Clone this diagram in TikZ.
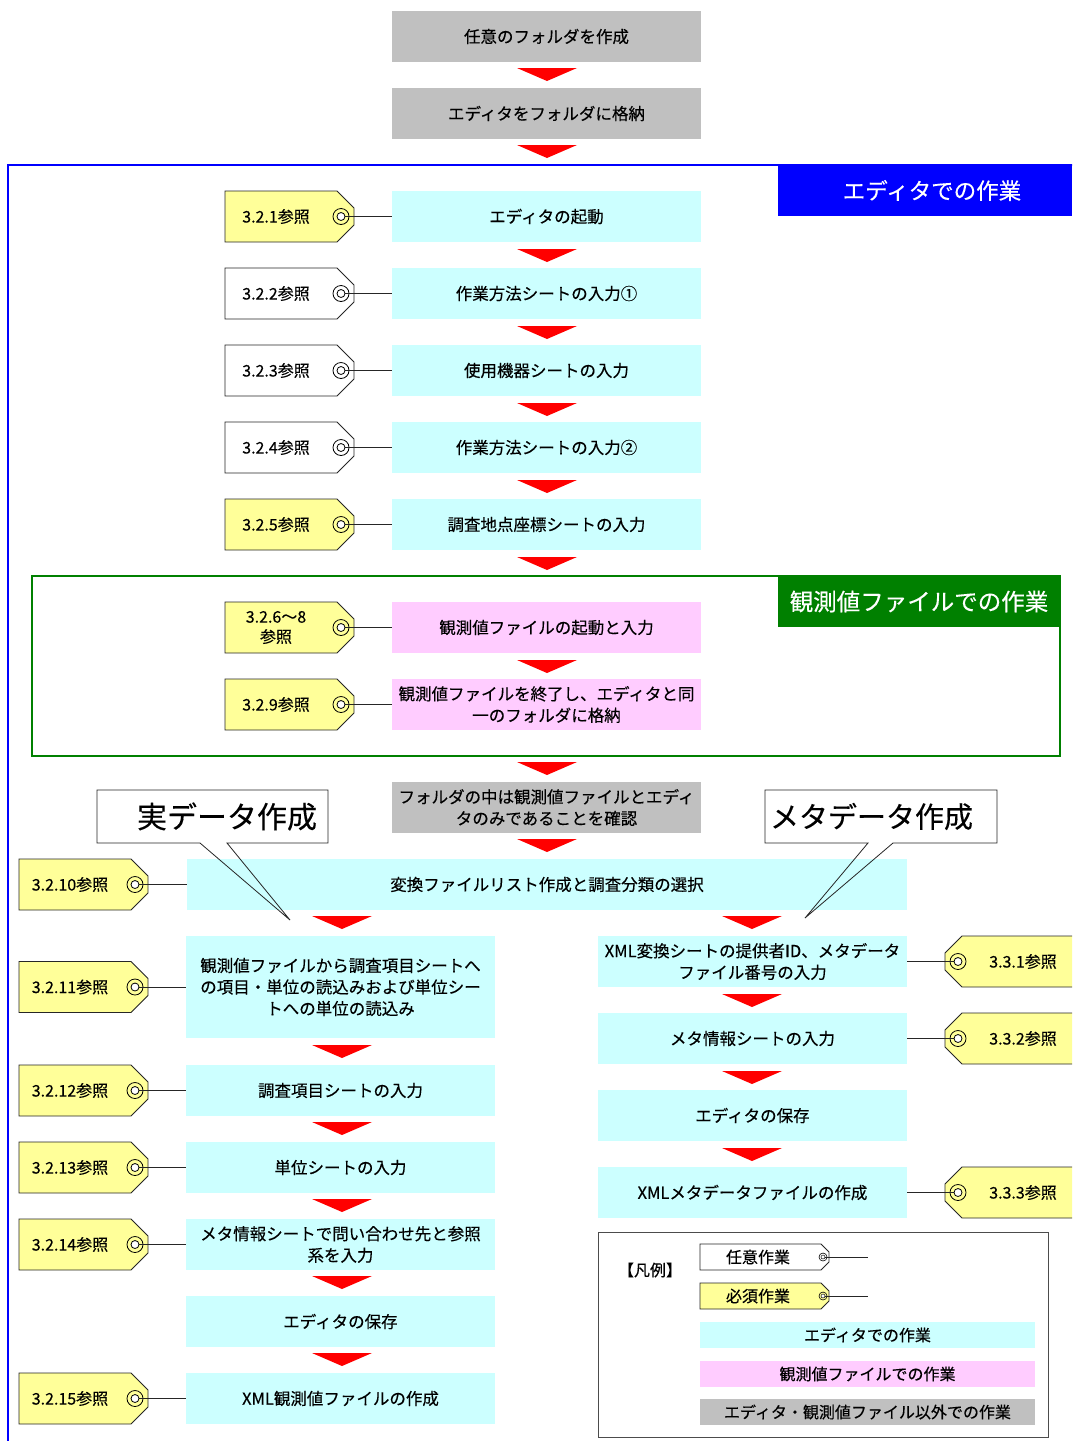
\documentclass[tikz,border=0pt]{standalone}
\usepackage{fontspec}
\setmainfont{Noto Sans CJK JP}[FakeBold=0.3]
\definecolor{cyanbox}{HTML}{CCFFFF}
\definecolor{pinkbox}{HTML}{FFCCFF}
\definecolor{graybox}{HTML}{C0C0C0}
\definecolor{tagyellow}{HTML}{FFFF99}
\definecolor{dkgreen}{HTML}{008000}
\tikzset{
  box/.style={minimum width=309, minimum height=51, inner sep=0pt, align=center, font=\fontsize{16.5}{21.5}\selectfont},
  ebox/.style={box, fill=cyanbox},
  pbox/.style={box, fill=pinkbox},
  gbox/.style={box, fill=graybox},
  tagline/.style={draw=black!85, line width=0.8},
  tagtext/.style={inner sep=0pt, align=center, font=\fontsize{16}{20}\selectfont},
  ring/.style={circle, draw=black, line width=0.8, minimum size=16, inner sep=0pt},
  hole/.style={circle, draw=black, line width=0.8, fill=white, minimum size=8, inner sep=0pt},
  sring/.style={circle, draw=black, line width=0.6, minimum size=8, inner sep=0pt},
  shole/.style={circle, draw=black, line width=0.5, fill=white, minimum size=4, inner sep=0pt},
  conn/.style={draw=black!85, line width=0.8},
  callout/.style={draw=black!85, line width=0.8},
  legtext/.style={inner sep=0pt, font=\fontsize{16}{20}\selectfont},
}
% left tag: name, box, left x, centre y, fill, text
\newcommand\tagL[6]{%
  \filldraw[tagline, fill=#5] (#3,#4-25.5) -- ++(112,0) -- ++(17,17) -- ++(0,17) -- ++(-17,17) -- ++(-112,0) -- cycle;
  \node[tagtext] (#1) at (#3+51,#4) {#6};
  \node[ring, fill=#5] (#1r) at (#3+116,#4) {};
  \draw[conn] (#1r.center) -- (#2.west);
  \node[hole] (#1h) at (#1r.center) {};
}
% right tag: name, box, right x, centre y, fill, text
\newcommand\tagR[6]{%
  \filldraw[tagline, fill=#5] (#3,#4-25.5) -- ++(-112,0) -- ++(-17,17) -- ++(0,17) -- ++(17,17) -- ++(112,0) -- cycle;
  \node[tagtext] (#1) at (#3-51,#4) {#6};
  \node[ring, fill=#5] (#1r) at (#3-116,#4) {};
  \draw[conn] (#1r.center) -- (#2.east);
  \node[hole] (#1h) at (#1r.center) {};
}
% legend tag: name, left x, centre y, fill, text
\newcommand\tagS[5]{%
  \filldraw[tagline, fill=#4] (#2,#3-13) -- ++(121,0) -- ++(8,8) -- ++(0,10) -- ++(-8,8) -- ++(-121,0) -- cycle;
  \node[legtext] (#1) at (#2+58,#3) {#5};
  \coordinate (#1e) at (868,#3);
  \node[sring, fill=#4] (#1r) at (#2+123,#3) {};
  \draw[conn] (#1r.center) -- (#1e);
  \node[shole] (#1h) at (#1r.center) {};
}
\newcommand\redarr[2]{\fill[red] (#1-30,#2) -- (#1+30,#2) -- (#1,#2+13) -- cycle;}
\begin{document}
\begin{tikzpicture}[x=1pt,y=-1pt]
\path[use as bounding box] (0,0) rectangle (1072,1441);
\clip (0,0) rectangle (1072,1441);
\fill[white] (0,0) rectangle (1072,1441);

% frames
\draw[blue, line width=2] (8,1460) -- (8,165) -- (1080,165);
\node[fill=blue, minimum width=294, minimum height=51, inner sep=0pt] (bluelab) at (925,190.5) {};
\node[text=white, inner sep=0pt, font=\fontsize{22.5}{26}\selectfont] (bluetxt) at (932,190.5) {エディタでの作業};
\draw[dkgreen, line width=2] (32,576) rectangle (1060,756);
\node[fill=dkgreen, text=white, minimum width=282, minimum height=51, inner sep=0pt, font=\fontsize{23.5}{26}\selectfont] (greenlab) at (919,601.5) {観測値ファイルでの作業};

% main column
\node[gbox] (g1) at (546.5,36.5) {任意のフォルダを作成};
\node[gbox] (g2) at (546.5,113.5) {エディタをフォルダに格納};
\node[ebox] (e1) at (546.5,216.5) {エディタの起動};
\node[ebox] (e2) at (546.5,293.5) {作業方法シートの入力①};
\node[ebox] (e3) at (546.5,370.5) {使用機器シートの入力};
\node[ebox] (e4) at (546.5,447.5) {作業方法シートの入力②};
\node[ebox] (e5) at (546.5,524.5) {調査地点座標シートの入力};
\node[pbox] (p1) at (546.5,627.5) {観測値ファイルの起動と入力};
\node[pbox] (p2) at (546.5,704.5) {観測値ファイルを終了し、エディタと同\\一のフォルダに格納};
\node[gbox] (g3) at (546.5,807.5) {フォルダの中は観測値ファイルとエディ\\タのみであることを確認};
\node[ebox, minimum width=720] (w) at (547,884.5) {変換ファイルリスト作成と調査分類の選択};

% left column
\node[ebox, minimum height=102] (l1) at (340.5,987) {観測値ファイルから調査項目シートへ\\の項目・単位の読込みおよび単位シー\\トへの単位の読込み};
\node[ebox] (l2) at (340.5,1090.5) {調査項目シートの入力};
\node[ebox] (l3) at (340.5,1167.5) {単位シートの入力};
\node[ebox] (l4) at (340.5,1244.5) {メタ情報シートで問い合わせ先と参照\\系を入力};
\node[ebox] (l5) at (340.5,1321.5) {エディタの保存};
\node[ebox] (l6) at (340.5,1398.5) {XML観測値ファイルの作成};

% right column
\node[ebox] (r1) at (752.5,961.5) {XML変換シートの提供者ID、メタデータ\\ファイル番号の入力};
\node[ebox] (r2) at (752.5,1038.5) {メタ情報シートの入力};
\node[ebox] (r3) at (752.5,1115.5) {エディタの保存};
\node[ebox] (r4) at (752.5,1192.5) {XMLメタデータファイルの作成};

% red arrows
\redarr{547}{68}
\redarr{547}{145}
\redarr{547}{249}
\redarr{547}{326}
\redarr{547}{403}
\redarr{547}{480}
\redarr{547}{557}
\redarr{547}{660}
\redarr{547}{762}
\redarr{547}{839}
\redarr{342}{916}
\redarr{342}{1045}
\redarr{342}{1122}
\redarr{342}{1199}
\redarr{342}{1276}
\redarr{342}{1353}
\redarr{752}{916}
\redarr{752}{994}
\redarr{752}{1071}
\redarr{752}{1148}

% tags
\tagL{t1}{e1}{225}{216.5}{tagyellow}{3.2.1参照}
\tagL{t2}{e2}{225}{293.5}{white}{3.2.2参照}
\tagL{t3}{e3}{225}{370.5}{white}{3.2.3参照}
\tagL{t4}{e4}{225}{447.5}{white}{3.2.4参照}
\tagL{t5}{e5}{225}{524.5}{tagyellow}{3.2.5参照}
\tagL{t6}{p1}{225}{627.5}{tagyellow}{3.2.6～8\\参照}
\tagL{t9}{p2}{225}{704.5}{tagyellow}{3.2.9参照}
\tagL{t10}{w}{19}{884.5}{tagyellow}{3.2.10参照}
\tagL{t11}{l1}{19}{987}{tagyellow}{3.2.11参照}
\tagL{t12}{l2}{19}{1090.5}{tagyellow}{3.2.12参照}
\tagL{t13}{l3}{19}{1167.5}{tagyellow}{3.2.13参照}
\tagL{t14}{l4}{19}{1244.5}{tagyellow}{3.2.14参照}
\tagL{t15}{l6}{19}{1398.5}{tagyellow}{3.2.15参照}
\tagR{u1}{r1}{1074}{961.5}{tagyellow}{3.3.1参照}
\tagR{u2}{r2}{1074}{1038.5}{tagyellow}{3.3.2参照}
\tagR{u3}{r4}{1074}{1192.5}{tagyellow}{3.3.3参照}

% callouts
\draw[callout] (97,790) -- (328,790) -- (328,843) -- (227,843) -- (290,920) -- (200,843) -- (97,843) -- cycle;
\node[inner sep=0pt, font=\fontsize{30}{32}\selectfont] (c1) at (227,816.5) {実データ作成};
\draw[callout] (765,790) -- (997,790) -- (997,843) -- (893,843) -- (805,918) -- (868,843) -- (765,843) -- cycle;
\node[inner sep=0pt, font=\fontsize{29}{32}\selectfont] (c2) at (871.5,816.5) {メタデータ作成};

% legend
\draw[draw=black!70, line width=1] (598,1232) rectangle (1048,1437);
\node[legtext] (legt) at (650,1270) {【凡例】};
\tagS{s1}{700}{1257}{white}{任意作業}
\tagS{s2}{700}{1296}{tagyellow}{必須作業}
\node[fill=cyanbox, minimum width=335, minimum height=26, inner sep=0pt, font=\fontsize{16}{20}\selectfont] (leg1) at (867.5,1335) {エディタでの作業};
\node[fill=pinkbox, minimum width=335, minimum height=26, inner sep=0pt, font=\fontsize{16}{20}\selectfont] (leg2) at (867.5,1374) {観測値ファイルでの作業};
\node[fill=graybox, minimum width=335, minimum height=26, inner sep=0pt, font=\fontsize{16}{20}\selectfont] (leg3) at (867.5,1412) {エディタ・観測値ファイル以外での作業};
\end{tikzpicture}
\end{document}
